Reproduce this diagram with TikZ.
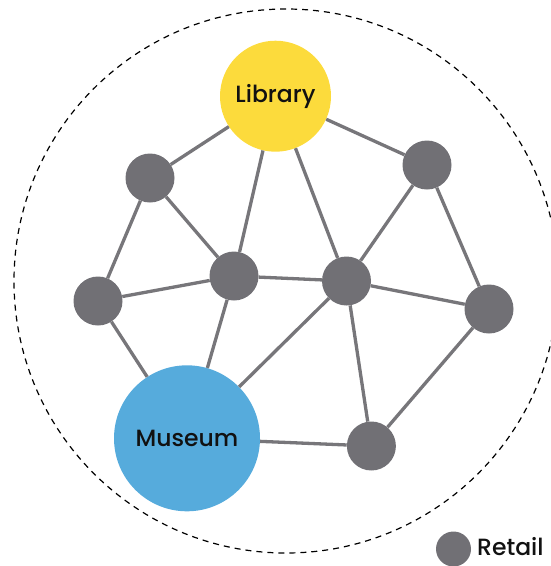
\documentclass[tikz,border=0pt]{standalone}
\usepackage{fontspec}
\setmainfont{Poppins}
\newfontfamily\labelfont{Poppins Medium}
\definecolor{retailgray}{HTML}{717075}
\definecolor{linkgray}{HTML}{77767A}
\definecolor{libyellow}{HTML}{FCDB3C}
\definecolor{musblue}{HTML}{56ABDC}
\definecolor{inktext}{HTML}{111111}
\begin{document}
\begin{tikzpicture}[x=1pt,y=-1pt,
  retail/.style={circle, fill=retailgray, minimum size=49pt, inner sep=0pt},
  anchorsite/.style={circle, inner sep=0pt, text=inktext,
    font=\labelfont\fontsize{23.5}{28}\selectfont},
  link/.style={draw=linkgray, line width=3.3pt},
  boundary/.style={draw=black, line width=1.2pt, dash pattern=on 6pt off 5pt}]
\useasboundingbox (0,0) rectangle (551,566);

% district boundary
\draw[boundary] (286,281) circle[radius=272];

% anchor sites
\node[anchorsite, fill=libyellow, minimum size=111pt] (library) at (275.5,96.2) {Library};
\node[anchorsite, fill=musblue, minimum size=146pt] (museum) at (187,438.3) {Museum};

% retail sites
\node[retail] (a) at (150,178) {};
\node[retail] (b) at (427,165) {};
\node[retail] (c) at (234,276) {};
\node[retail] (d) at (346.5,281) {};
\node[retail] (e) at (98,301) {};
\node[retail] (f) at (489,309) {};
\node[retail] (g) at (371.4,446) {};

% street links
\foreach \u/\v in {library/a, library/c, library/d, library/b,
                   a/c, a/e, e/c, e/museum, c/d, c/museum,
                   d/b, d/f, d/museum, d/g, b/f, f/g, museum/g}
  \draw[link] (\u) -- (\v);

% legend
\node[retail, minimum size=35pt] (legend) at (453.5,549) {};
\node[anchor=west, inner sep=0pt, text=inktext,
      font=\labelfont\fontsize{23.5}{28}\selectfont] (legendtext) at (477,546.5) {Retail};
\end{tikzpicture}
\end{document}
